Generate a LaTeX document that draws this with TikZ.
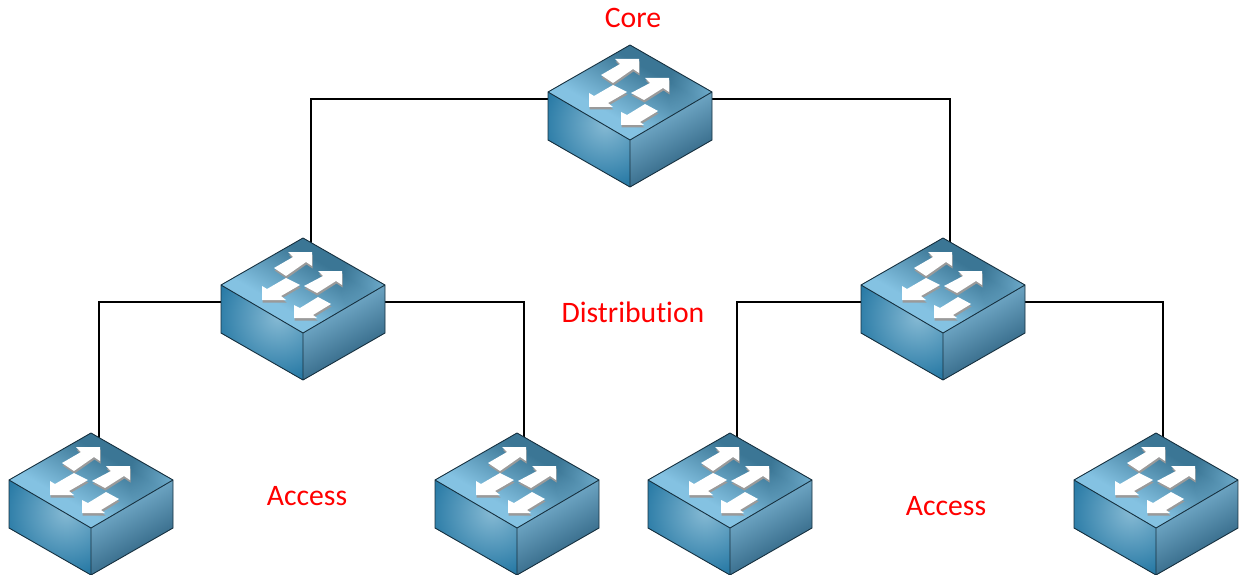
\documentclass[tikz,border=0pt]{standalone}
\usepackage{fontspec}
\usetikzlibrary{fadings}
\setmainfont[Ligatures=NoCommon]{Carlito}
\definecolor{edgec}{HTML}{16303F}
\definecolor{topa}{HTML}{84C2E2}
\definecolor{topb}{HTML}{3B7695}
\definecolor{lefta}{HTML}{86BAD4}
\definecolor{leftb}{HTML}{2A7BA6}
\definecolor{righta}{HTML}{74ACCA}
\definecolor{rightb}{HTML}{2B5F7E}
\definecolor{shadowc}{HTML}{9A9A9A}
\tikzfading[name=cornerglow,inner color=transparent!0,outer color=transparent!100]
\pgfdeclareverticalshading{topsh}{100bp}{color(0bp)=(topa);color(38bp)=(topa);color(62bp)=(topb);color(100bp)=(topb)}
\pgfdeclareverticalshading{rightsh}{100bp}{color(0bp)=(rightb);color(30bp)=(rightb);color(66bp)=(righta);color(100bp)=(righta)}
\tikzset{
  x=1pt,y=-1pt,
  swbox/.style={minimum width=164pt,minimum height=142pt,inner sep=0pt,outer sep=0pt},
  link/.style={line width=2pt,black,line join=miter},
  lbl/.style={text=red,font=\fontsize{29.7}{32}\selectfont,inner sep=0pt,anchor=center},
  arr/.style={fill=white},
  arrsh/.style={fill=shadowc},
  switch/.pic={
    % top face
    \begin{scope}
      \clip (0,-71) -- (82,-24) -- (0,24) -- (-82,-24) -- cycle;
      \shade[shading=topsh,shading angle=-30] (0,-71) -- (82,-24) -- (0,24) -- (-82,-24) -- cycle;
      \fill[topa,path fading=cornerglow,opacity=0.7] (82,-24) circle (45);
    \end{scope}
    % left face
    \begin{scope}
      \clip (-82,-24) -- (0,24) -- (0,71) -- (-82,24) -- cycle;
      \fill[leftb] (-90,-30) rectangle (5,75);
      \shade[inner color=lefta,outer color=leftb] (-25,8) circle (62);
    \end{scope}
    % right face
    \begin{scope}
      \clip (82,-24) -- (0,24) -- (0,71) -- (82,24) -- cycle;
      \shade[shading=rightsh,shading angle=30] (82,-24) -- (0,24) -- (0,71) -- (82,24) -- cycle;
    \end{scope}
    \draw[edgec,line width=0.9pt,line join=round]
      (0,-71) -- (82,-24) -- (82,24) -- (0,71) -- (-82,24) -- (-82,-24) -- cycle
      (-82,-24) -- (0,24) -- (82,-24) (0,24) -- (0,71);
    % arrows: shadows, then white
    \foreach \st/\dx/\dy in {arrsh/0.5/2.5,arr/0/0}{
      \begin{scope}[shift={(\dx,\dy)}]
        \fill[\st] (-29,-41) -- (-10,-52) -- (-15,-57) -- (9,-57) -- (9,-43) -- (3,-47) -- (-17,-33) -- cycle;
        \fill[\st] (1,-23) -- (20,-33) -- (15,-38) -- (39,-38) -- (39,-24) -- (33,-28) -- (14,-16) -- cycle;
        \fill[\st] (-17,-31) -- (-3,-24) -- (-22,-13) -- (-17,-9) -- (-41,-9) -- (-41,-23) -- (-36,-20) -- cycle;
        \fill[\st] (15,-12) -- (28,-5) -- (10,6) -- (14,9) -- (-9,9) -- (-9,-4) -- (-3,-1) -- cycle;
      \end{scope}
    }
  }
}
\begin{document}
\begin{tikzpicture}
\useasboundingbox (0,0) rectangle (1239,575);
\node[swbox] (core) at (630,116) {};
\node[swbox] (distl) at (303,309) {};
\node[swbox] (distr) at (943,309) {};
\node[swbox] (acca) at (91,504) {};
\node[swbox] (accb) at (517,504) {};
\node[swbox] (accc) at (730,504) {};
\node[swbox] (accd) at (1156,504) {};
\draw[link] ([yshift=17pt]core.center) -| ([xshift=8pt]distl.center);
\draw[link] ([yshift=17pt]core.center) -| ([xshift=7pt]distr.center);
\draw[link] ([yshift=7pt]distl.center) -| ([xshift=8pt]acca.center);
\draw[link] ([yshift=7pt]distl.center) -| ([xshift=7pt]accb.center);
\draw[link] ([yshift=7pt]distr.center) -| ([xshift=7pt]accc.center);
\draw[link] ([yshift=7pt]distr.center) -| ([xshift=7pt]accd.center);
\foreach \n in {core,distl,distr,acca,accb,accc,accd}{
  \pic at (\n.center) {switch};
}
\node[lbl] (lcore) at (633,18) {Core};
\node[lbl] (ldist) at (633,312) {Distribution};
\node[lbl] (laccl) at (307,496) {Access};
\node[lbl] (laccr) at (946,506) {Access};
\end{tikzpicture}
\end{document}
